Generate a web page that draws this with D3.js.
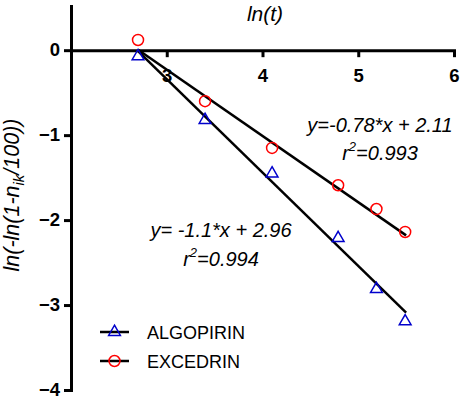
<!DOCTYPE html>
<html><head><meta charset="utf-8">
<script src="https://cdn.jsdelivr.net/npm/d3@7"></script>
<style>body{margin:0;background:#fff}svg{display:block}</style>
</head><body>
<svg id="c" width="462" height="399"></svg>
<script>
const xTicks = [3, 4, 5, 6];
const yTicks = [0, -1, -2, -3, -4];
const seriesNames = ["ALGOPIRIN", "EXCEDRIN"];
const xValues = [2.70, 3.40, 4.10, 4.79, 5.19, 5.49];
const algopirin = [-0.06, -0.81, -1.44, -2.20, -2.80, -3.18];
const excedrin = [0.12, -0.60, -1.15, -1.59, -1.87, -2.14];
const slopes = [-1.1, -0.78];
const intercepts = [2.96, 2.11];
const fitRange = [2.70, 5.50];
const eqLabels = [["y= -1.1*x + 2.96", "=0.994"], ["y=-0.78*x + 2.11", "=0.993"]];

const svg = d3.select("#c");
const F = "Arial, 'Liberation Sans', sans-serif";
const x = d3.scaleLinear().domain([2, 6]).range([71, 454]);
const y = d3.scaleLinear().domain([-4, 0.52]).range([390, 6]);
const colors = ["#0000cc", "#ff0000"];

// y axis
const yAxis = svg.append("g").attr("transform", `translate(${x(2)},0)`)
  .call(d3.axisLeft(y).tickValues(yTicks).tickSize(7).tickSizeOuter(0).tickPadding(4).tickFormat(d3.format("d")));
yAxis.select(".domain").attr("stroke-width", 3);
yAxis.selectAll(".tick line").attr("stroke-width", 3);
yAxis.selectAll("text").attr("font-family", F).attr("dy", "0.3em")
  .attr("font-size", 18.5).attr("font-weight", "bold").attr("fill", "#000");

// x axis at y=0
const xAxis = svg.append("g").attr("transform", `translate(0,${y(0)})`)
  .call(d3.axisBottom(x).tickValues(xTicks).tickSize(7).tickSizeOuter(0).tickPadding(12).tickFormat(d3.format("d")));
xAxis.select(".domain").attr("stroke-width", 3);
xAxis.selectAll(".tick line").attr("stroke-width", 3);
xAxis.selectAll("text").attr("font-family", F)
  .attr("font-size", 18.5).attr("font-weight", "bold").attr("fill", "#000");
svg.selectAll(".domain").attr("stroke-linecap", "square");

// title
svg.append("text").attr("x", 265).attr("y", 21).attr("text-anchor", "middle")
  .attr("font-family", F).attr("font-size", 21)
  .attr("font-style", "italic").text("ln(t)");

// y label
const yl = svg.append("text").attr("transform", "translate(18.5,195) rotate(-90)")
  .attr("text-anchor", "middle").attr("font-family", F)
  .attr("font-size", 21.5).attr("font-style", "italic");
yl.append("tspan").text("ln(-ln(1-n");
yl.append("tspan").attr("font-size", 15).attr("dy", 5).text("ik");
yl.append("tspan").attr("dy", -5).text("/100))");

// fit lines
slopes.forEach((s, i) => {
  svg.append("line")
    .attr("x1", x(fitRange[0])).attr("y1", y(s * fitRange[0] + intercepts[i]))
    .attr("x2", x(fitRange[1])).attr("y2", y(s * fitRange[1] + intercepts[i]))
    .attr("stroke", "#000").attr("stroke-width", 2.5);
});

const tri = d3.symbol().type(d3.symbolTriangle).size(60);
function drawTri(g, cx, cy) {
  g.append("path").attr("d", tri).attr("transform", `translate(${cx},${cy + 1})`)
    .attr("fill", "none").attr("stroke", colors[0]).attr("stroke-width", 1.5);
}
function drawCirc(g, cx, cy) {
  g.append("circle").attr("cx", cx).attr("cy", cy).attr("r", 5.5)
    .attr("fill", "none").attr("stroke", colors[1]).attr("stroke-width", 1.5);
}
xValues.forEach((xv, i) => {
  drawTri(svg, x(xv), y(algopirin[i]));
  drawCirc(svg, x(xv), y(excedrin[i]));
});

// equations
const eqPos = [[221, 237, 266], [380, 132, 160]];
eqLabels.forEach((lab, i) => {
  svg.append("text").attr("x", eqPos[i][0]).attr("y", eqPos[i][1]).attr("text-anchor", "middle")
    .attr("font-family", F).attr("font-size", 20).attr("font-style", "italic").text(lab[0]);
  const t = svg.append("text").attr("x", eqPos[i][0]).attr("y", eqPos[i][2]).attr("text-anchor", "middle")
    .attr("font-family", F).attr("font-size", 20).attr("font-style", "italic");
  t.append("tspan").text("r");
  t.append("tspan").attr("font-size", 13).attr("dy", -9).text("2");
  t.append("tspan").attr("dy", 9).text(lab[1]);
});

// legend
const legY = [332, 361];
seriesNames.forEach((name, i) => {
  svg.append("line").attr("x1", 100).attr("x2", 129).attr("y1", legY[i]).attr("y2", legY[i])
    .attr("stroke", "#000").attr("stroke-width", 2.5);
  if (i === 0) drawTri(svg, 114.5, legY[i] - 1); else drawCirc(svg, 114.5, legY[i]);
  svg.append("text").attr("x", 147).attr("y", legY[i] + 6.5)
    .attr("font-family", F).attr("font-size", 18).text(name);
});
</script>
</body></html>
